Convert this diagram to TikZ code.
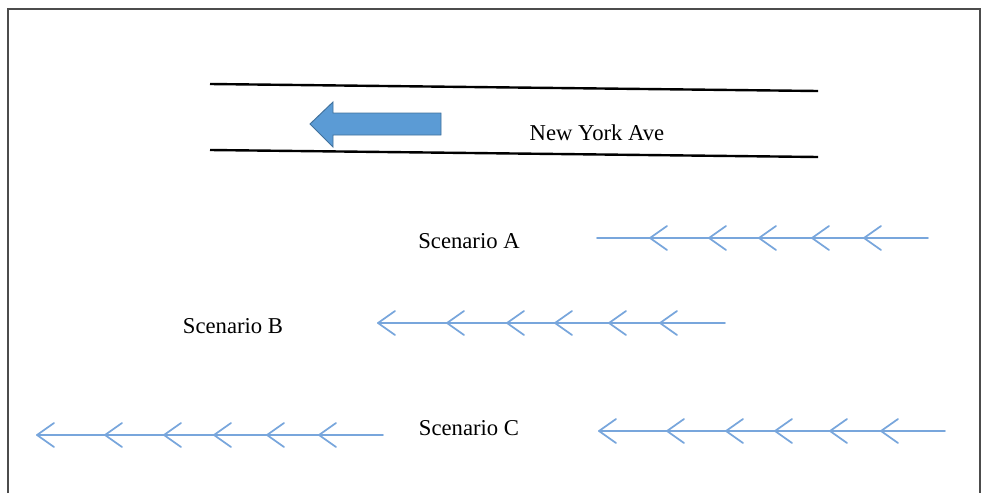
\documentclass[tikz,border=0pt]{standalone}
\usepackage{fontspec}
\setmainfont{Liberation Serif}
\usetikzlibrary{positioning}

\definecolor{flowblue}{RGB}{120,166,220}
\definecolor{arrowblue}{RGB}{91,155,213}
\definecolor{arrowedge}{RGB}{65,113,156}

\begin{document}
\begin{tikzpicture}[
		x=0.75pt, y=-0.75pt,
		every node/.style={font=\fontsize{17}{20}\selectfont, inner sep=0pt},
		frame/.style={line width=1.5pt, draw=black!70},
		road/.style={line width=1.8pt, draw=black},
		bigarrow/.style={fill=arrowblue, draw=arrowedge, line width=0.7pt},
		flow/.style={line width=1.3pt, draw=flowblue, line cap=round, line join=round}
		]
		
		\useasboundingbox (0,0) rectangle (981,493);
		
		% Frame
		\draw[frame] (8,493) -- (8,9) -- (979.5,9) -- (979.5,493);
		
		% Road
		\draw[road] (210,84) -- (818,91);
		\draw[road] (210,150) -- (818,157);
		\draw[bigarrow] (310,124) -- (333,102) -- (333,113) -- (441,113)
		-- (441,135) -- (333,135) -- (333,147) -- cycle;
		\node (road) at (597,133) {New York Ave};
		
		% Labels
		\node (labelA) at (469,241) {Scenario A};
		\node (labelB) at (233,326) {Scenario B};
		\node (labelC) at (469,428) {Scenario C};
		
		% Scenario A
		\draw[flow] (597,238) -- (928,238);
		\foreach \tx in {650,709,759,812,864}
		\draw[flow] (\tx+17,226) -- (\tx,238) -- (\tx+17,250);
		
		% Scenario B
		\draw[flow] (378,323) -- (725,323);
		\foreach \tx in {378,447,507,555,609,660}
		\draw[flow] (\tx+17,311) -- (\tx,323) -- (\tx+17,335);
		
		% Scenario C
		\draw[flow] (37,435) -- (383,435);
		\foreach \tx in {37,105,164,214,267,319}
		\draw[flow] (\tx+17,423) -- (\tx,435) -- (\tx+17,447);
		\draw[flow] (599,431) -- (945,431);
		\foreach \tx in {599,667,726,775,830,881}
		\draw[flow] (\tx+17,419) -- (\tx,431) -- (\tx+17,443);
		
	\end{tikzpicture}
\end{document}
